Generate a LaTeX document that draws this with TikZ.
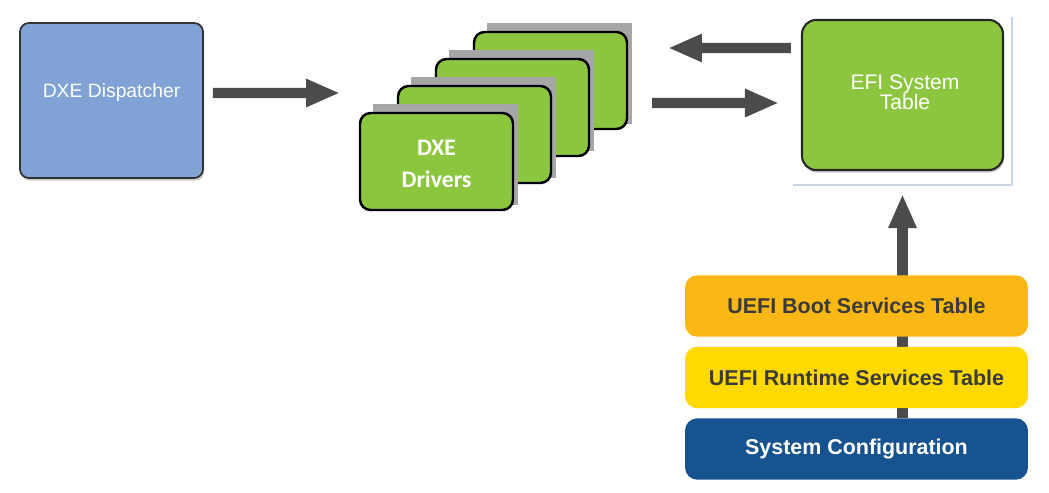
\documentclass[tikz,border=0pt]{standalone}
\usepackage{fontspec}
\setmainfont{Liberation Sans}
\newfontfamily\drvfont{Carlito}
\usepackage{tikz}
\usetikzlibrary{arrows.meta,shadows}
\definecolor{dispblue}{HTML}{81A2D4}
\definecolor{drvgreen}{HTML}{8CC63F}
\definecolor{arrowgray}{HTML}{4B4B4B}
\definecolor{bootorange}{HTML}{FBB714}
\definecolor{rtyellow}{HTML}{FFD900}
\definecolor{cfgblue}{HTML}{17538F}
\definecolor{tabletext}{HTML}{3A3A3A}
\definecolor{framecol}{HTML}{C9D5E6}
\tikzstyle{dispbox}=[draw=black!80,line width=1pt,fill=dispblue,rounded corners=5pt,minimum width=3.66cm,minimum height=3.1cm,drop shadow={shadow xshift=0.6pt,shadow yshift=-1.5pt,opacity=.4}]
\tikzstyle{drvbox}=[draw=black,line width=1.4pt,fill=drvgreen,rounded corners=6pt,minimum width=3.06cm,minimum height=1.94cm]
\tikzstyle{drvback}=[fill=black!35]
\tikzstyle{efibox}=[draw=black!85,line width=1.2pt,fill=drvgreen,rounded corners=8pt,minimum width=4.02cm,minimum height=3cm,drop shadow={shadow xshift=0.6pt,shadow yshift=-1.5pt,opacity=.4}]
\tikzstyle{tablebox}=[rounded corners=7pt,minimum width=6.86cm,minimum height=1.23cm,font=\fontsize{12.2}{14}\selectfont\bfseries]
\tikzstyle{bigarrow}=[draw=arrowgray,line width=5.7pt,-{Triangle[length=0.68cm,width=0.52cm]}]

\begin{document}
\begin{tikzpicture}[x=0.02cm,y=-0.02cm]
      \useasboundingbox (0,0) rectangle (1049,493);
      % dispatcher
      \node[dispbox] (disp) at (111.5,100.5) {};
      \node[text=white,font=\fontsize{11}{13}\selectfont] (disptxt) at (111.5,93) {DXE Dispatcher};
      % stack of drivers, back to front
      \foreach \i in {3,2,1,0} {
        \pgfmathsetmacro\cx{436.5+38*\i}
        \pgfmathsetmacro\cy{161.5-27*\i}
        \fill[drvback] (\cx-63.5,\cy-57.5) rectangle (\cx+81.5,\cy+43.5);
        \node[drvbox] (drv\i) at (\cx,\cy) {};
      }
      \node[text=white,align=center,font=\drvfont\bfseries\fontsize{13.5}{18}\selectfont] (drvtxt) at (436.5,164) {DXE\\Drivers};
      % system table
      \node[efibox] (efi) at (902.5,95) {};
      \node[text=white,align=center,font=\fontsize{12}{11.5}\selectfont] (efitxt) at (905,92) {EFI System\\Table};
      \draw[framecol,line width=0.7pt] (793,185) -- (1012,185) -- (1012,17);
      \coordinate (toarr) at (340,93);
      \coordinate (backarr) at (668,48);
      \coordinate (fromdrv) at (652,103);
      \draw[bigarrow] ([xshift=0.18cm,yshift=0.15cm]disp.east) -- (toarr);
      \draw[bigarrow] ([xshift=-0.2cm,yshift=0.94cm]efi.west) -- (backarr);
      \draw[bigarrow] (fromdrv) -- ([xshift=-0.44cm,yshift=-0.16cm]efi.west);
      % tables
      \node[tablebox,fill=cfgblue,text=white] (cfg) at (856.5,449) {System Configuration};
      \draw[bigarrow] (cfg.north -| efi.south) -- ([yshift=-0.46cm]efi.south);
      \node[tablebox,fill=rtyellow,text=tabletext] (rt) at (856.5,377.5) {UEFI Runtime Services Table};
      \node[tablebox,fill=bootorange,text=tabletext] (boot) at (856.5,306) {UEFI Boot Services Table};
    \end{tikzpicture}
\end{document}
